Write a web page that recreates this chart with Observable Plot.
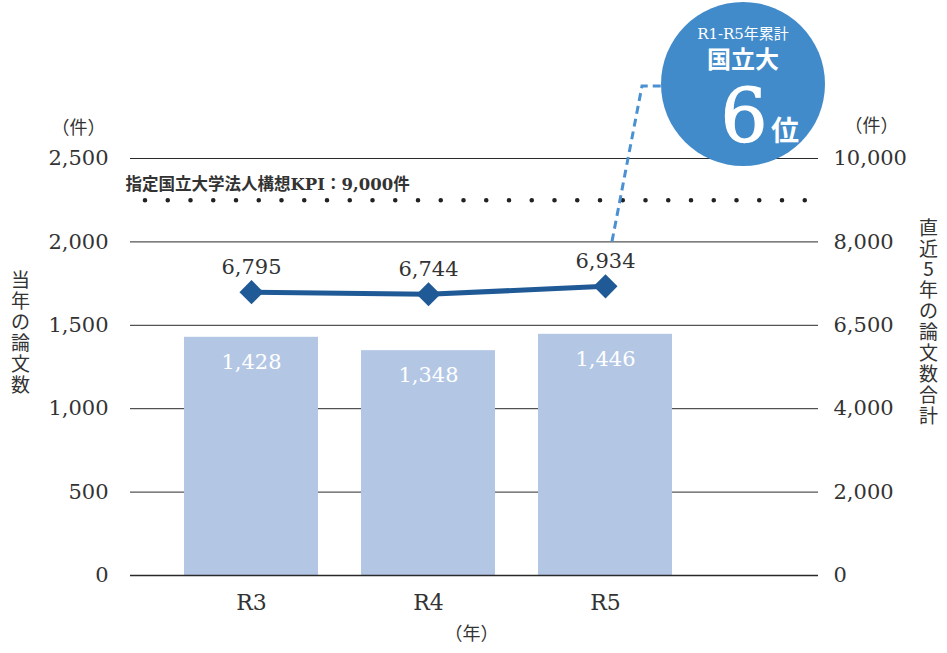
<!DOCTYPE html>
<html><head><meta charset="utf-8">
<script src="https://cdn.jsdelivr.net/npm/d3@7"></script>
<script src="https://cdn.jsdelivr.net/npm/@observablehq/plot@0.6"></script>
<style>
html,body{margin:0;padding:0;background:#fff;}
</style>
</head><body><div id="chart"></div>
<script>
const years = ["R3", "R4", "R5"];
const papersYear = [1428, 1348, 1446];
const papers5yr = [6795, 6744, 6934];
const leftTicks = [0, 500, 1000, 1500, 2000, 2500];
const rightTickLabels = ["0", "2,000", "4,000", "6,500", "8,000", "10,000"];
const rightMax = 10000, leftMax = 2500;
const kpiValue = 9000;
const kpiLabel = "指定国立大学法人構想KPI：9,000件";
const rankTitle = "R1-R5年累計", rankGroup = "国立大", rankValue = "6", rankUnit = "位";

const ratio = rightMax / leftMax;
const data = years.map((y, i) => ({year: y, papers: papersYear[i], total: papers5yr[i]}));
const fmt = d3.format(",");
const serif = "DejaVu Serif";
const jp = "Noto Sans CJK JP";

const chart = Plot.plot({
  width: 947, height: 653,
  marginTop: 158, marginBottom: 78, marginLeft: 130, marginRight: 129,
  style: {fontFamily: serif, fontSize: "21px", color: "#333", background: "#fff"},
  x: {domain: years, range: [184, 672], paddingInner: 0.245, paddingOuter: 0},
  y: {domain: [0, leftMax], range: [575, 158]},
  marks: [
    Plot.ruleY(leftTicks, {stroke: "#2a2a2a", strokeWidth: 1}),
    Plot.barY(data, {x: "year", y: "papers", fill: "#b3c7e5"}),
    Plot.ruleY([0], {stroke: "#2a2a2a", strokeWidth: 1.3}),
    Plot.ruleY([kpiValue / ratio], {stroke: "#222", strokeWidth: 4.6, strokeDasharray: "0,22.75", strokeLinecap: "round", insetLeft: 15, insetRight: 3}),
    Plot.text([kpiLabel], {frameAnchor: "top-left", y: () => kpiValue / ratio, text: d => d, textAnchor: "start", dx: -5, dy: -22, fontFamily: `"DejaVu Serif", "Noto Sans CJK JP"`, fontWeight: "bold", fontSize: 16.5, fill: "#333"}),
    Plot.axisY({ticks: leftTicks, tickSize: 0, tickPadding: 22, anchor: "left", label: null, tickFormat: fmt, fontFamily: serif, fontSize: 21, fill: "#333"}),
    Plot.axisY({ticks: leftTicks, tickSize: 0, tickPadding: 15, anchor: "right", label: null, tickFormat: (d, i) => rightTickLabels[i], fontFamily: serif, fontSize: 21, fill: "#333"}),
    Plot.axisX({tickSize: 0, tickPadding: 19, label: null, fontFamily: serif, fontSize: 22, fill: "#333"}),
    Plot.text(data, {x: "year", y: "papers", text: d => fmt(d.papers), dy: 25, fill: "#fff", fontFamily: serif, fontSize: 21}),
    Plot.line(data, {x: "year", y: d => d.total / ratio, stroke: "#1f5a96", strokeWidth: 5}),
    Plot.dot(data, {x: "year", y: d => d.total / ratio, symbol: "square", rotate: 45, r: 9.6, fill: "#1f5a96"}),
    Plot.text(data, {x: "year", y: d => d.total / ratio, text: d => fmt(d.total), dy: -25, fill: "#333", fontFamily: serif, fontSize: 21}),
    Plot.text(["（件）"], {frameAnchor: "top-left", textAnchor: "middle", text: d => d, dx: -52, dy: -37, fontFamily: jp, fontSize: 18, fill: "#333"}),
    Plot.text(["（件）"], {frameAnchor: "top-right", textAnchor: "middle", text: d => d, dx: 53, dy: -39, fontFamily: jp, fontSize: 18, fill: "#333"}),
    Plot.text(["（年）"], {frameAnchor: "bottom", textAnchor: "middle", text: d => d, dx: -3, dy: 64, fontFamily: jp, fontSize: 18, fill: "#333"}),
    Plot.text(["当年の論文数"], {frameAnchor: "left", textAnchor: "middle", text: d => d.split("").join("\n"), dx: -110, dy: -34, lineHeight: 1.1, fontFamily: jp, fontSize: 19, fill: "#333"}),
    Plot.text(["直近5年の論文数合計"], {frameAnchor: "right", textAnchor: "middle", text: d => d.split("").join("\n"), dx: 110, dy: -45, lineHeight: 1.1, fontFamily: jp, fontSize: 19, fill: "#333"})
  ]
});
document.getElementById("chart").appendChild(chart);

// Rank annotation bubble, positioned from the scales
const svg = d3.select(chart.tagName.toLowerCase() === "svg" ? chart : chart.querySelector("svg"));
const xs = chart.scale("x"), ys = chart.scale("y");
const x5 = xs.apply("R5") + xs.bandwidth / 2;
const yTop = ys.apply(leftMax);
const yStart = ys.apply(2000);
const g = svg.append("g");
const cx = x5 + 138, cy = yTop - 74, r = 82;
g.append("path")
  .attr("d", `M${x5 + 7},${yStart} L${x5 + 37},${yTop - 72} L${cx - r + 2},${yTop - 72}`)
  .attr("fill", "none").attr("stroke", "#4a90d2").attr("stroke-width", 3).attr("stroke-dasharray", "8,5");
g.append("circle").attr("cx", cx).attr("cy", cy).attr("r", r).attr("fill", "#428bca");
g.append("text").attr("x", cx).attr("y", cy - 45).attr("text-anchor", "middle")
  .attr("font-family", `"DejaVu Serif", "Noto Sans CJK JP"`).attr("font-size", 15).attr("fill", "#fff").text(rankTitle);
g.append("text").attr("x", cx).attr("y", cy - 16).attr("text-anchor", "middle")
  .attr("font-family", jp).attr("font-weight", "bold").attr("font-size", 24).attr("fill", "#fff").text(rankGroup);
g.append("text").attr("x", cx + 1).attr("y", cy + 58).attr("text-anchor", "middle")
  .attr("font-family", serif).attr("font-size", 74).attr("fill", "#fff").attr("stroke", "#fff").attr("stroke-width", 1.2).text(rankValue);
g.append("text").attr("x", cx + 42).attr("y", cy + 57).attr("text-anchor", "middle")
  .attr("font-family", jp).attr("font-weight", "bold").attr("font-size", 28).attr("fill", "#fff").text(rankUnit);
</script>
</body></html>
